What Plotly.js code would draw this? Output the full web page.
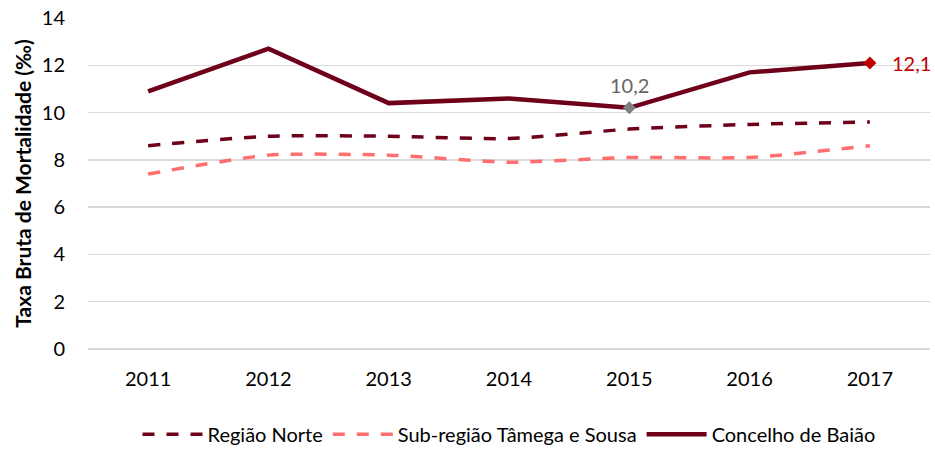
<!DOCTYPE html>
<html>
<head>
<meta charset="utf-8">
<script src="https://cdn.plot.ly/plotly-3.0.1.min.js"></script>
<style>html,body{margin:0;padding:0;background:#fff;}#chart{width:935px;height:449px;}</style>
</head>
<body>
<div id="chart"></div>
<script>
const years = ['2011','2012','2013','2014','2015','2016','2017'];
const regiaoNorte = [8.6, 9.0, 9.0, 8.9, 9.3, 9.5, 9.6];
const tamegaSousa = [7.4, 8.2, 8.2, 7.9, 8.1, 8.1, 8.6];
const baiao = [10.9, 12.7, 10.4, 10.6, 10.2, 11.7, 12.1];
const seriesNames = ['Região Norte', 'Sub-região Tâmega e Sousa', 'Concelho de Baião'];
const highlightIdx = [4, 6];
const highlightLabels = ['10,2', '12,1'];

const font = 'Lato, "Open Sans", sans-serif';
const traces = [
  {x: years, y: regiaoNorte, name: seriesNames[0], type: 'scatter', mode: 'lines',
   line: {color: '#6E0019', width: 3.5, dash: '12px,12px', shape: 'spline', smoothing: 0.6}},
  {x: years, y: tamegaSousa, name: seriesNames[1], type: 'scatter', mode: 'lines',
   line: {color: '#FF6F6F', width: 3.5, dash: '12px,12px', shape: 'spline', smoothing: 0.6}},
  {x: years, y: baiao, name: seriesNames[2], type: 'scatter', mode: 'lines',
   line: {color: '#6E0019', width: 4.5}},
  {x: highlightIdx.map(i => years[i]), y: highlightIdx.map(i => baiao[i]),
   type: 'scatter', mode: 'markers', showlegend: false, hoverinfo: 'skip',
   marker: {symbol: 'diamond', size: 10, color: ['#7F7F7F', '#C00000']}}
];

const annotations = [
  {xref: 'x', yref: 'y', x: highlightIdx[0], y: baiao[highlightIdx[0]], text: highlightLabels[0], showarrow: false,
   yshift: 23, font: {family: font, size: 20, color: '#666666'}},
  {xref: 'x', yref: 'y', x: highlightIdx[1], y: baiao[highlightIdx[1]], text: highlightLabels[1], showarrow: false,
   xanchor: 'left', xshift: 20, font: {family: font, size: 20, color: '#C00000'}}
];

const layout = {
  width: 935, height: 449,
  margin: {l: 88, r: 5, t: 18, b: 100},
  paper_bgcolor: '#fff', plot_bgcolor: '#fff',
  font: {family: font, size: 20, color: '#000'},
  showlegend: true,
  annotations: annotations,
  legend: {orientation: 'h', x: 0.5, xanchor: 'center', yref: 'container', y: 0.033, yanchor: 'middle',
           font: {family: font, size: 20, color: '#000'}, itemwidth: 60, tracegroupgap: 0},
  xaxis: {type: 'category', range: [-0.5, 6.5], showgrid: false, zeroline: false, showline: false,
          ticks: 'outside', ticklen: 12, tickcolor: 'rgba(0,0,0,0)',
          tickfont: {family: font, size: 20, color: '#000'}, fixedrange: true},
  yaxis: {range: [0, 14], dtick: 2, showgrid: true, gridcolor: '#D9D9D9', gridwidth: 1.5,
          zeroline: true, zerolinecolor: '#D9D9D9', zerolinewidth: 1.5, showline: false,
          ticks: 'outside', ticklen: 18, tickcolor: 'rgba(0,0,0,0)',
          tickfont: {family: font, size: 20, color: '#000'},
          title: {text: '<b>Taxa Bruta de Mortalidade (‰)</b>', font: {family: font, size: 21, color: '#000'}, standoff: 4},
          fixedrange: true}
};

Plotly.newPlot('chart', traces, layout, {displayModeBar: false, staticPlot: true});
</script>
</body>
</html>
